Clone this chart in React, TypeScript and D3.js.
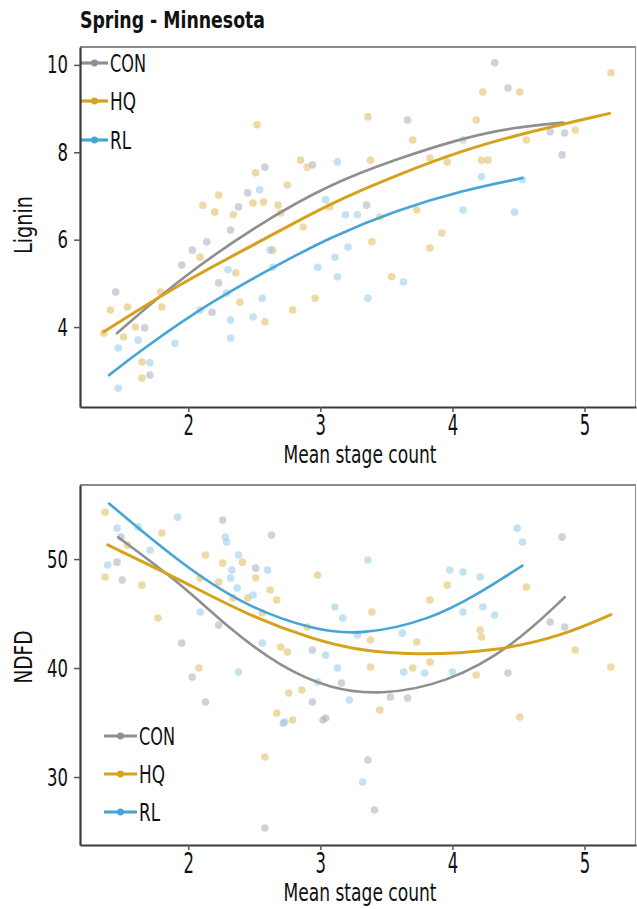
import React, { useEffect, useRef } from 'react';
import * as d3 from 'd3';

// groups + colours
const groups = ['CON', 'HQ', 'RL'];
const lineColors = ['#8f8f8f', '#d6a21e', '#45a5d7'];
const dotColors = ['#aeb0c2', '#e0bf62', '#98cde8'];

const xTicks = [2, 3, 4, 5];
const ligninTicks = [4, 6, 8, 10];
const ndfdTicks = [30, 40, 50];

// Lignin panel, scatter (mean stage count, lignin)
const ligninCon = [
  [1.45, 4.8], [1.67, 3.98], [1.71, 2.9], [1.95, 5.42], [2.03, 5.76], [2.14, 5.95], [2.18, 4.34],
  [2.23, 5.01], [2.38, 6.75], [2.32, 6.22], [2.45, 7.07], [2.58, 7.66], [2.94, 7.71], [3.66, 8.74],
  [4.32, 10.05], [4.42, 9.47], [4.74, 8.47], [4.85, 8.44], [4.83, 7.94], [3.35, 6.79],
];
const ligninHq = [
  [1.36, 3.86], [1.41, 4.39], [1.54, 4.46], [1.6, 4.0], [1.51, 3.77], [1.65, 3.2], [1.65, 2.83],
  [1.79, 4.8], [1.8, 4.46], [2.11, 6.79], [2.2, 6.63], [2.09, 5.6], [2.39, 4.57], [2.58, 4.12],
  [2.79, 4.39], [2.96, 4.66], [2.34, 6.57], [2.49, 6.84], [2.57, 6.86], [2.7, 6.61], [2.87, 6.29],
  [2.64, 5.76], [2.52, 8.63], [2.85, 7.82], [2.9, 7.66], [2.75, 7.25], [2.51, 7.53], [2.23, 7.02],
  [2.68, 6.79], [2.36, 5.24], [3.36, 8.81], [3.7, 8.28], [3.38, 7.82], [3.83, 7.87], [3.96, 7.78],
  [4.22, 7.82], [4.27, 7.82], [4.18, 8.74], [4.23, 9.38], [4.51, 9.38], [4.56, 8.28], [4.93, 8.51],
  [5.2, 9.82], [3.73, 6.68], [3.45, 6.52], [3.39, 5.95], [3.92, 6.15], [3.83, 5.81], [3.54, 5.15],
  [3.07, 6.75],
];
const ligninRl = [
  [1.47, 3.52], [1.47, 2.6], [1.71, 3.18], [1.62, 3.7], [1.9, 3.63], [2.09, 4.39], [2.32, 4.16],
  [2.32, 3.75], [2.29, 4.78], [2.3, 5.31], [2.49, 4.23], [2.56, 4.66], [2.62, 5.76], [2.64, 5.37],
  [2.54, 7.14], [3.13, 7.78], [3.04, 6.91], [3.19, 6.57], [3.28, 6.57], [3.21, 5.83], [3.11, 5.6],
  [2.98, 5.37], [3.13, 5.15], [4.08, 8.28], [4.22, 7.44], [4.08, 6.68], [4.47, 6.63], [3.63, 5.03],
  [4.53, 7.37], [3.36, 4.66],
];

// fitted curves
const ligninConFit = [
  [1.46, 3.86], [1.94, 5.12], [2.54, 6.37], [3.07, 7.27], [3.58, 7.85], [4.08, 8.33], [4.46, 8.57], [4.84, 8.68],
];
const ligninHqFit = [
  [1.36, 3.89], [1.94, 5.0], [2.54, 5.95], [3.07, 6.83], [3.58, 7.48], [4.08, 8.05], [4.58, 8.47], [5.19, 8.89],
];
const ligninRlFit = [
  [1.4, 2.9], [1.64, 3.47], [2.19, 4.62], [2.7, 5.46], [3.07, 6.05], [3.58, 6.68], [4.08, 7.13], [4.53, 7.41],
];

// NDFD panel
const ndfdCon = [
  [1.5, 48.07], [1.46, 49.72], [1.49, 52.02], [2.26, 53.58], [2.63, 52.2], [2.23, 43.94], [1.95, 42.29],
  [2.03, 39.17], [2.13, 36.88], [2.51, 49.17], [2.94, 41.65], [3.04, 35.41], [3.16, 38.62], [4.83, 52.02],
  [4.74, 44.22], [4.85, 43.76], [4.42, 39.54], [3.66, 37.25], [3.53, 37.34], [3.36, 31.56], [3.41, 26.97],
  [3.02, 35.23], [2.58, 25.32], [2.72, 34.95], [2.94, 36.88],
];
const ndfdHq = [
  [1.37, 54.31], [1.37, 48.35], [1.65, 47.61], [1.8, 52.39], [1.77, 44.59], [2.13, 50.37], [2.26, 49.63],
  [2.41, 49.72], [2.51, 48.26], [2.09, 48.26], [2.23, 47.89], [2.34, 46.42], [2.56, 45.05], [2.67, 46.24],
  [2.62, 47.16], [2.98, 48.53], [2.9, 43.76], [2.7, 41.93], [2.75, 41.47], [2.08, 40.0], [2.76, 37.71],
  [2.86, 37.98], [2.67, 35.87], [2.79, 35.23], [1.54, 51.28], [2.58, 31.83], [3.96, 47.61], [3.83, 46.24],
  [3.39, 45.14], [3.38, 42.57], [3.73, 42.39], [4.21, 43.49], [4.22, 42.84], [4.56, 47.43], [4.93, 41.65],
  [5.2, 40.09], [3.38, 40.09], [3.7, 40.0], [3.83, 40.55], [3.45, 36.15], [4.51, 35.5], [4.18, 39.36],
  [2.45, 46.42],
];
const ndfdRl = [
  [1.39, 49.45], [1.46, 52.84], [1.62, 52.94], [1.71, 50.83], [1.92, 53.85], [2.28, 52.02], [2.29, 51.56],
  [2.38, 50.37], [2.33, 48.99], [2.32, 48.26], [2.6, 48.99], [2.37, 47.34], [2.49, 46.7], [2.09, 45.14],
  [2.56, 42.29], [2.38, 39.63], [3.11, 45.6], [3.17, 44.59], [3.04, 41.19], [3.13, 40.0], [2.98, 38.72],
  [3.22, 37.06], [2.73, 35.05], [4.49, 52.84], [4.53, 51.56], [3.36, 49.91], [3.98, 48.99], [4.08, 48.81],
  [4.21, 48.35], [3.28, 43.03], [3.62, 43.21], [4.08, 45.14], [4.23, 45.6], [4.32, 44.86], [3.63, 39.63],
  [3.79, 39.54], [4.0, 39.63], [3.32, 29.54],
];

const ndfdConFit = [
  [1.47, 52.0], [1.94, 47.8], [2.32, 43.5], [2.7, 40.1], [3.07, 38.1], [3.45, 37.5], [3.96, 38.6], [4.46, 42.0], [4.85, 46.5],
];
const ndfdHqFit = [
  [1.39, 51.3], [1.94, 48.1], [2.44, 44.9], [2.95, 42.6], [3.3, 41.6], [3.7, 41.2], [4.33, 41.5], [4.84, 43.0], [5.2, 44.9],
];
const ndfdRlFit = [
  [1.4, 55.1], [1.94, 49.6], [2.44, 45.6], [2.95, 43.5], [3.3, 43.0], [3.83, 44.4], [4.21, 46.9], [4.53, 49.4],
];

const FONT = "'Liberation Sans Narrow', 'DejaVu Sans', sans-serif";
const xDomain = [1.18, 5.39];
const plotLeft = 80;
const plotRight = 636;
const legendTextW = [36, 26, 21];

// squeeze text to a given width (the original uses a condensed face)
function squeeze(sel, w) {
  return sel
    .attr('font-family', FONT)
    .attr('font-stretch', 'condensed')
    .attr('textLength', w)
    .attr('lengthAdjust', 'spacingAndGlyphs');
}

function drawPanel(svg, cfg) {
  const x = d3.scaleLinear().domain(xDomain).range([plotLeft, plotRight]);
  const y = d3.scaleLinear().domain(cfg.yDomain).range([cfg.bottom, cfg.top]);
  const g = svg.append('g');

  // frame
  g.append('line')
    .attr('x1', plotLeft).attr('x2', plotRight)
    .attr('y1', cfg.top).attr('y2', cfg.top)
    .attr('stroke', '#8a8a8a').attr('stroke-width', 2);
  g.append('line')
    .attr('x1', plotRight - 0.5).attr('x2', plotRight - 0.5)
    .attr('y1', cfg.top).attr('y2', cfg.bottom)
    .attr('stroke', '#9a9a9a').attr('stroke-width', 1.2);

  // scatter
  cfg.points.forEach((pts, i) => {
    g.append('g')
      .selectAll('circle')
      .data(pts)
      .enter()
      .append('circle')
      .attr('cx', d => x(d[0]))
      .attr('cy', d => y(d[1]))
      .attr('r', 3.8)
      .attr('fill', dotColors[i])
      .attr('opacity', 0.58);
  });

  // fitted lines
  const line = d3.line().x(d => x(d[0])).y(d => y(d[1])).curve(d3.curveBasis);
  cfg.fits.forEach((f, i) => {
    g.append('path')
      .attr('d', line(f))
      .attr('fill', 'none')
      .attr('stroke', lineColors[i])
      .attr('stroke-width', i === 1 ? 3 : 2.6)
      .attr('stroke-linecap', 'round');
  });

  // legend
  const lg = cfg.legend;
  g.append('rect')
    .attr('x', lg.x2)
    .attr('y', lg.ys[0] - 15)
    .attr('width', lg.boxW)
    .attr('height', lg.ys[2] - lg.ys[0] + 30)
    .attr('fill', '#fff')
    .attr('opacity', 0.92);
  groups.forEach((name, i) => {
    g.append('line')
      .attr('x1', lg.x1).attr('x2', lg.x2)
      .attr('y1', lg.ys[i]).attr('y2', lg.ys[i])
      .attr('stroke', lineColors[i])
      .attr('stroke-width', 3.2);
    g.append('circle')
      .attr('cx', (lg.x1 + lg.x2) / 2)
      .attr('cy', lg.ys[i])
      .attr('r', 3.4)
      .attr('fill', lineColors[i]);
    g.append('text')
      .attr('x', lg.x2 + 2)
      .attr('y', lg.ys[i])
      .attr('dy', '0.36em')
      .attr('font-size', 25)
      .attr('fill', '#111')
      .text(name)
      .call(squeeze, legendTextW[i]);
  });

  // axes
  const yAxis = g.append('g')
    .attr('transform', `translate(${plotLeft},0)`)
    .call(d3.axisLeft(y).tickValues(cfg.yTicks).tickFormat(d3.format('d'))
      .tickSize(6).tickSizeOuter(0).tickPadding(6));
  const xAxis = g.append('g')
    .attr('transform', `translate(0,${cfg.bottom})`)
    .call(d3.axisBottom(x).tickValues(xTicks).tickFormat(d3.format('d'))
      .tickSize(5).tickSizeOuter(0).tickPadding(2));
  [yAxis, xAxis].forEach(ax => {
    ax.select('.domain').attr('stroke', '#3a3a3a').attr('stroke-width', 2.2);
    ax.selectAll('.tick line').attr('stroke', '#555').attr('stroke-width', 1.5);
    ax.selectAll('.tick text')
      .attr('fill', '#111')
      .each(function (d) {
        d3.select(this).call(squeeze, String(d).length * 10.5);
      });
  });
  yAxis.selectAll('.tick text').attr('font-size', 25);
  xAxis.selectAll('.tick text').attr('font-size', 29);

  g.append('text')
    .attr('x', 360)
    .attr('y', cfg.bottom + 56)
    .attr('text-anchor', 'middle')
    .attr('font-size', 24)
    .attr('fill', '#111')
    .text('Mean stage count')
    .call(squeeze, 153);

  g.append('text')
    .attr('transform', `translate(32,${cfg.labelY}) rotate(-90)`)
    .attr('text-anchor', 'middle')
    .attr('font-size', 25)
    .attr('fill', '#111')
    .text(cfg.yLabel)
    .call(squeeze, cfg.labelW);
}

export default function App() {
  const ref = useRef(null);

  useEffect(() => {
    const svg = d3.select(ref.current);
    svg.selectAll('*').remove();

    svg.append('text')
      .attr('x', 80)
      .attr('y', 28)
      .attr('font-weight', 'bold')
      .attr('font-size', 23)
      .attr('fill', '#111')
      .text('Spring - Minnesota')
      .call(squeeze, 185);

    drawPanel(svg, {
      yDomain: [2.17, 10.41],
      top: 47,
      bottom: 407,
      yTicks: ligninTicks,
      yLabel: 'Lignin',
      labelY: 225,
      labelW: 58,
      points: [ligninCon, ligninHq, ligninRl],
      fits: [ligninConFit, ligninHqFit, ligninRlFit],
      legend: { x1: 81, x2: 108, ys: [63, 101, 140], boxW: 140 },
    });

    drawPanel(svg, {
      yDomain: [23.76, 56.8],
      top: 485,
      bottom: 845,
      yTicks: ndfdTicks,
      yLabel: 'NDFD',
      labelY: 657,
      labelW: 53,
      points: [ndfdCon, ndfdHq, ndfdRl],
      fits: [ndfdConFit, ndfdHqFit, ndfdRlFit],
      legend: { x1: 104, x2: 137, ys: [736, 774, 812], boxW: 122 },
    });
  }, []);

  return (
    <svg
      ref={ref}
      width={637}
      height={909}
      style={{ position: 'absolute', left: 0, top: 0, background: '#fff' }}
    />
  );
}
